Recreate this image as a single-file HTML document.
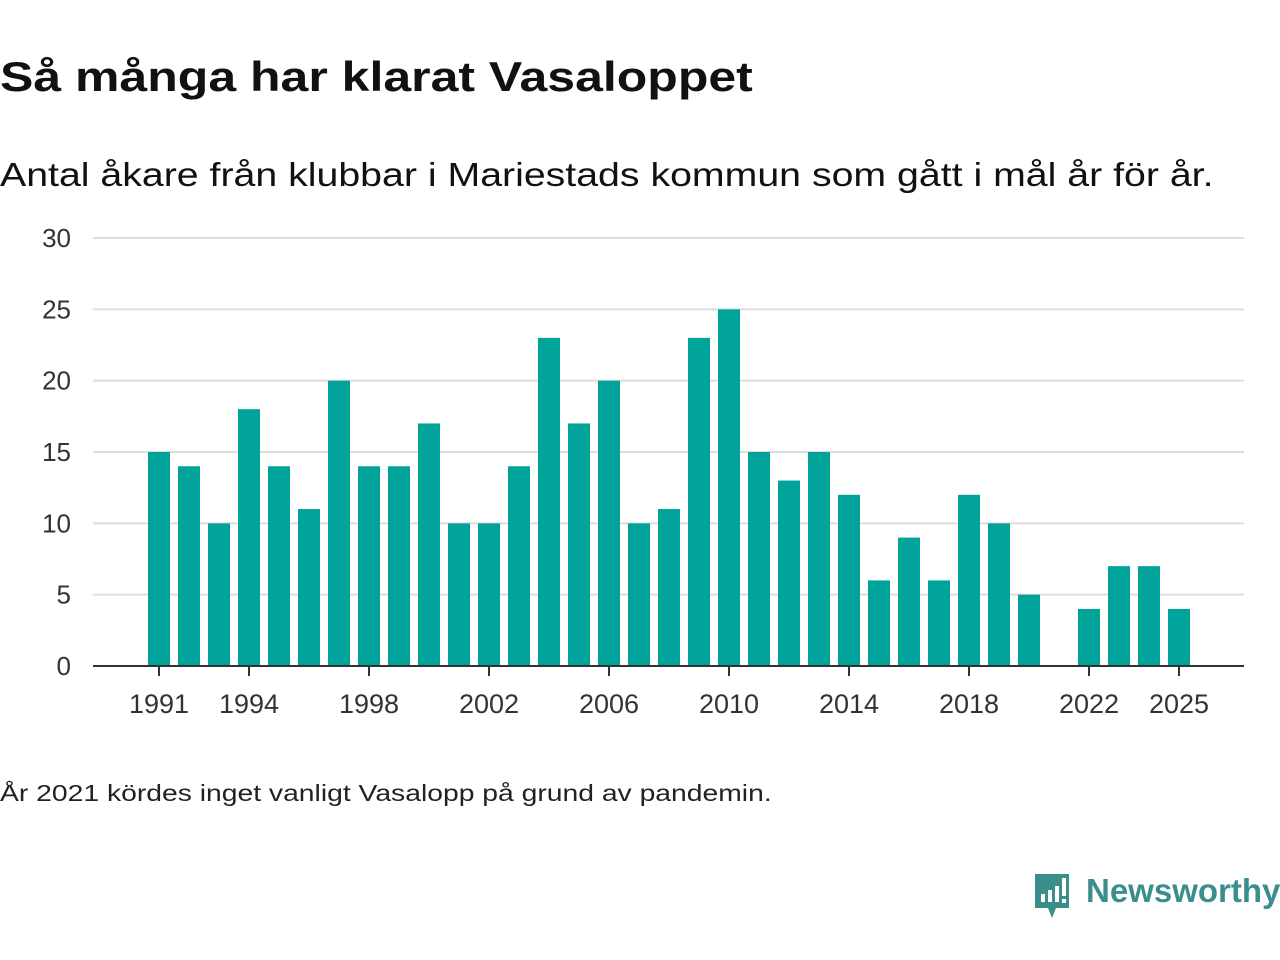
<!DOCTYPE html>
<html><head><meta charset="utf-8"><style>
body{margin:0;width:1280px;height:960px;background:#fff;font-family:"Liberation Sans",sans-serif;color:#111;position:relative;overflow:hidden}
.t{position:absolute;left:0;white-space:nowrap;transform-origin:0 0}
</style></head><body>
<div class="t" style="top:53px;font-size:42px;font-weight:bold;transform:scaleX(1.19)">Så många har klarat Vasaloppet</div>
<div class="t" style="top:156px;font-size:33px;transform:scaleX(1.19)">Antal åkare från klubbar i Mariestads kommun som gått i mål år för år.</div>
<svg id="chart" width="1280" height="760" style="position:absolute;left:0;top:0"></svg>
<div class="t" style="top:780px;font-size:23px;color:#222;transform:scaleX(1.23)">År 2021 kördes inget vanligt Vasalopp på grund av pandemin.</div>
<div style="position:absolute;left:1032px;top:872px;height:48px">
<svg width="40" height="48" style="position:absolute;left:0;top:0"><path d="M3 2h34v34H24l-4 10-4-10H3z" fill="#3a8f8c"/><rect x="9" y="22" width="4" height="8" fill="#fff"/><rect x="16" y="18" width="4" height="12" fill="#fff"/><rect x="23" y="14" width="4" height="16" fill="#fff"/><rect x="30" y="6" width="4" height="18" fill="#fff"/><rect x="30" y="27" width="4" height="4" fill="#fff"/></svg>
<div class="t" style="left:54px;top:0px;font-size:33px;font-weight:bold;color:#3a8f8c">Newsworthy</div>
</div>
<script>
const years=[1991,1992,1993,1994,1995,1996,1997,1998,1999,2000,2001,2002,2003,2004,2005,2006,2007,2008,2009,2010,2011,2012,2013,2014,2015,2016,2017,2018,2019,2020,2021,2022,2023,2024,2025];
const finishers=[15,14,10,18,14,11,20,14,14,17,10,10,14,23,17,20,10,11,23,25,15,13,15,12,6,9,6,12,10,5,null,4,7,7,4];
const yTicks=[0,5,10,15,20,25,30];
const xTicks=[1991,1994,1998,2002,2006,2010,2014,2018,2022,2025];
const svg=document.getElementById('chart');const NS='http://www.w3.org/2000/svg';
const x=v=>159+(v-1991)*30;const y=v=>666-v*(428/30);
function mk(t,a){const e=document.createElementNS(NS,t);for(const k in a)e.setAttribute(k,a[k]);svg.appendChild(e);return e;}
yTicks.forEach(v=>{
 const l=mk('line',{x1:93,x2:1244,y1:y(v),y2:y(v),stroke:v===0?'#333':'#ddd','stroke-width':2});
 
 
 const t=mk('text',{x:71,y:y(v)+9,'text-anchor':'end','font-size':26,fill:'#333','font-family':'Liberation Sans'});
 t.textContent=v;
 
 
});
years.forEach((yr,i)=>{const v=finishers[i];if(v==null)return;
 const r=mk('rect',{x:x(yr)-11,y:y(v),width:22,height:y(0)-y(v),fill:'#00a39a'});
 
 
});
mk('line',{x1:93,x2:1244,y1:y(0),y2:y(0),stroke:'#333','stroke-width':2});
xTicks.forEach(yr=>{
 const l=mk('line',{x1:x(yr),x2:x(yr),y1:y(0),y2:y(0)+10,stroke:'#333','stroke-width':2});
 
 
 const t=mk('text',{x:x(yr),y:713,'text-anchor':'middle','font-size':27,fill:'#333','font-family':'Liberation Sans'});
 t.textContent=yr;
 
 
});
</script>
</body></html>
